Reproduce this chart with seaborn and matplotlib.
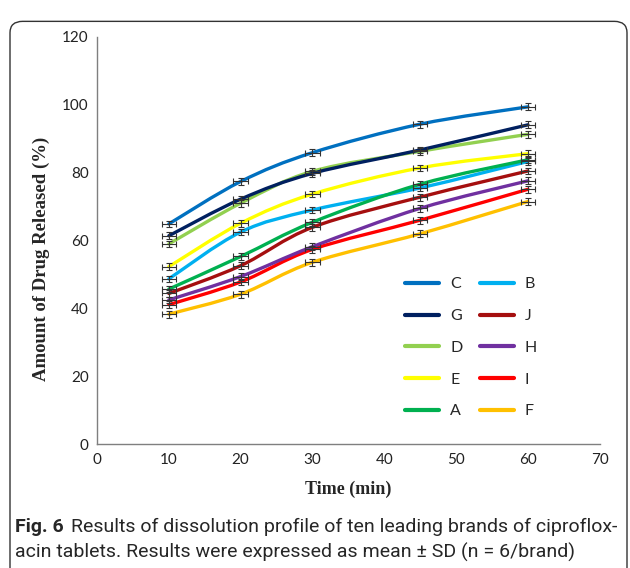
import numpy as np
import matplotlib
matplotlib.use("Agg")
import matplotlib.pyplot as plt
from matplotlib.path import Path
from matplotlib.patches import PathPatch, FancyBboxPatch
from matplotlib.lines import Line2D
import seaborn as sns

# data
time = [10, 20, 30, 45, 60]
brands = ["C", "G", "D", "E", "A", "B", "J", "H", "I", "F"]
C = [64.9, 77.4, 85.9, 94.3, 99.4]
G = [61.4, 72.2, 79.8, 86.7, 94.1]
D = [59.0, 71.0, 80.4, 86.3, 91.3]
E = [52.3, 65.1, 73.7, 81.4, 85.6]
A = [45.7, 55.3, 65.4, 76.6, 83.8]
B = [48.7, 62.5, 69.0, 75.5, 83.3]
J = [44.4, 52.6, 63.9, 72.8, 80.5]
H = [42.5, 49.4, 58.2, 69.5, 77.6]
I = [41.1, 47.8, 57.4, 66.0, 75.1]
F = [38.3, 44.2, 53.6, 62.0, 71.5]
sd = [1.0, 1.0, 1.0, 1.0, 1.0]
values = {"C": C, "G": G, "D": D, "E": E, "A": A,
          "B": B, "J": J, "H": H, "I": I, "F": F}
colors = {"C": "#0070C0", "G": "#002060", "D": "#92D050", "E": "#FFFF00",
          "A": "#00B050", "B": "#00B0F0", "J": "#A50F0F", "H": "#7030A0",
          "I": "#FF0000", "F": "#FFC000"}

sns.set_style("white")
plt.rcParams["font.family"] = ["Lato", "DejaVu Sans"]

fig = plt.figure(figsize=(6.3, 5.68), dpi=100)
ax = fig.add_axes([0.154, 0.218, 0.798, 0.717])


def smooth_path(x, y):
    # excel style smoothed line (catmull-rom as cubic bezier)
    pts = np.column_stack([x, y]).astype(float)
    verts = [pts[0]]
    codes = [Path.MOVETO]
    n = len(pts)
    for i in range(n - 1):
        p0 = pts[max(i - 1, 0)]
        p1 = pts[i]
        p2 = pts[i + 1]
        p3 = pts[min(i + 2, n - 1)]
        c1 = p1 + (p2 - p0) / 6.0
        c2 = p2 - (p3 - p1) / 6.0
        verts += [c1, c2, p2]
        codes += [Path.CURVE4] * 3
    return Path(verts, codes)


# draw in reverse so that upper curves sit on top like the original
for b in brands[::-1]:
    ax.add_patch(PathPatch(smooth_path(time, values[b]), facecolor="none",
                           edgecolor=colors[b], lw=2.4, capstyle="round"))
for b in brands:
    ax.errorbar(time, values[b], xerr=1.0, yerr=sd, fmt="none",
                ecolor="#333333", elinewidth=0.8, capsize=2.2, capthick=0.8,
                zorder=5)

ax.set_xlim(0, 70)
ax.set_ylim(0, 120)
ax.set_xticks(range(0, 71, 10))
ax.set_yticks(range(0, 121, 20))
ax.tick_params(labelsize=11, length=0, pad=6, colors="#222222")
for s in ["top", "right"]:
    ax.spines[s].set_visible(False)
for s in ["left", "bottom"]:
    ax.spines[s].set_color("#7f7f7f")
    ax.spines[s].set_linewidth(1.0)

ax.set_xlabel("Time (min)", family="Liberation Serif", fontweight="bold",
              fontsize=13, labelpad=10)
ax.set_ylabel("Amount of Drug Released (%)", family="Liberation Serif",
              fontweight="bold", fontsize=13.5)
ax.yaxis.set_label_coords(-0.093, 0.455)

handles = [Line2D([0], [0], color=colors[b], lw=3, solid_capstyle="round")
           for b in brands]
ax.legend(handles, brands, ncol=2, frameon=False, fontsize=11.5,
          loc="lower left", bbox_to_anchor=(0.585, 0.028), handlelength=2.1,
          labelspacing=1.1, columnspacing=1.1, handletextpad=0.7)

# caption
cap_font = ["Roboto", "DejaVu Sans"]
t1 = fig.text(0.024, 0.063, "Fig. 6", fontsize=14, fontweight="bold",
              family=cap_font)
fig.canvas.draw()
bb = t1.get_window_extent()
fig.text(bb.x1 / 630 + 0.011, 0.063,
         "Results of dissolution profile of ten leading brands of ciproflox-",
         fontsize=14, family=cap_font)
fig.text(0.024, 0.018,
         "acin tablets. Results were expressed as mean \u00b1 SD (n = 6/brand)",
         fontsize=14, family=cap_font)

# rounded border
fig.patches.append(FancyBboxPatch((10 / 630, -0.02), 617 / 630, 0.98 - 10 / 568 + 0.02,
                                  boxstyle="round,pad=0,rounding_size=0.02",
                                  transform=fig.transFigure, fill=False,
                                  edgecolor="#333333", lw=1.0))

fig.savefig("out.png", dpi=100)
